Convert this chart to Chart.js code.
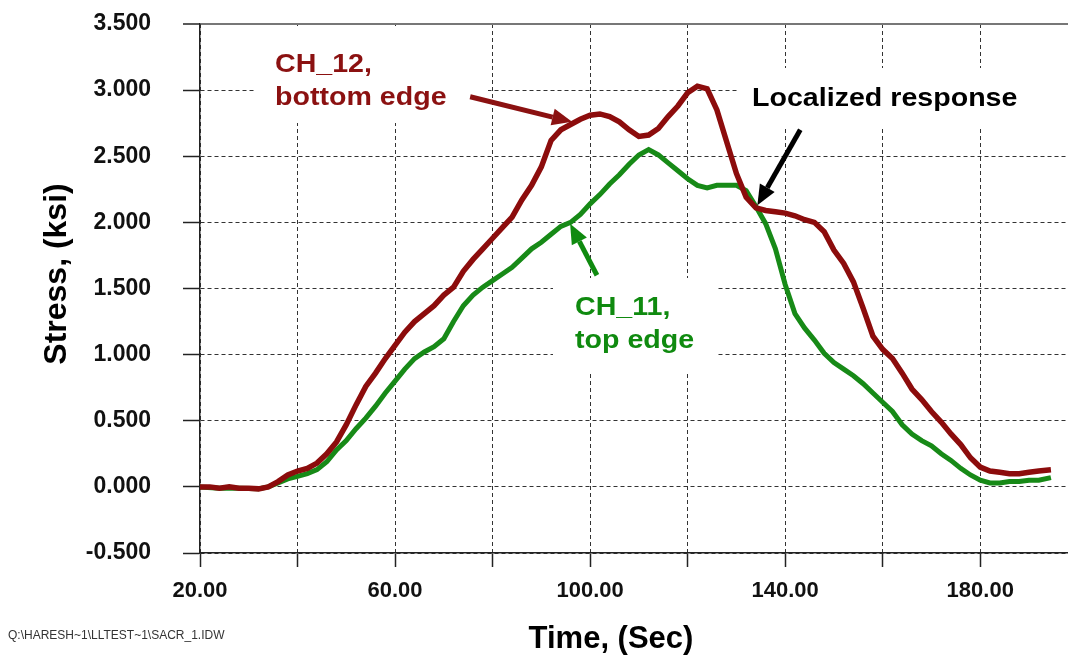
<!DOCTYPE html>
<html>
<head>
<meta charset="utf-8">
<script src="https://cdn.jsdelivr.net/npm/chart.js@4.4.1/dist/chart.umd.min.js"></script>
<style>
  html, body { margin: 0; padding: 0; background: #fff; }
</style>
</head>
<body>
<canvas id="myChart" width="1068" height="656"></canvas>
<script>
// CH_12, bottom edge
var time12 = [20, 22, 24, 26, 28, 30, 32, 34, 36, 38, 40, 42, 44, 46, 48, 50, 52, 54, 56, 58,
    60, 62, 64, 66, 68, 70, 72, 74, 76, 78, 80, 82, 84, 86, 88, 90, 92, 94, 96, 98,
    100, 102, 104, 106, 108, 110, 112, 114, 116, 118, 120, 122, 124, 126, 128, 130, 132, 134, 136, 138,
    140, 142, 144, 146, 148, 150, 152, 154, 156, 158, 160, 162, 164, 166, 168, 170, 172, 174, 176, 178,
    180, 182, 184, 186, 188, 190, 192, 194.5];
var stress12 = [0.00, 0.00, -0.01, 0.00, -0.01, -0.01, -0.015, 0.00, 0.04, 0.09, 0.12, 0.14, 0.18, 0.25, 0.34, 0.47, 0.62, 0.76, 0.86, 0.97,
    1.07, 1.17, 1.25, 1.31, 1.37, 1.45, 1.51, 1.63, 1.72, 1.80, 1.88, 1.96, 2.04, 2.17, 2.28, 2.42, 2.62, 2.70, 2.74, 2.78,
    2.81, 2.82, 2.80, 2.76, 2.70, 2.65, 2.66, 2.71, 2.80, 2.88, 2.98, 3.03, 3.01, 2.85, 2.61, 2.37, 2.19, 2.11, 2.09, 2.08,
    2.07, 2.05, 2.02, 2.00, 1.93, 1.79, 1.69, 1.55, 1.35, 1.14, 1.04, 0.97, 0.86, 0.74, 0.66, 0.57, 0.49, 0.40, 0.32, 0.22,
    0.15, 0.12, 0.11, 0.10, 0.10, 0.11, 0.12, 0.13];

// CH_11, top edge
var time11 = [20, 24, 28, 32, 34, 36, 38, 40, 42, 44, 46, 48, 50, 52, 54, 56, 58,
    60, 62, 64, 66, 68, 70, 72, 74, 76, 78, 80, 82, 84, 86, 88, 90, 92, 94, 96, 98,
    100, 102, 104, 106, 108, 110, 112, 114, 116, 118, 120, 122, 124, 126, 128, 130, 132, 134, 136, 138,
    140, 142, 144, 146, 148, 150, 152, 154, 156, 158, 160, 162, 164, 166, 168, 170, 172, 174, 176, 178,
    180, 182, 184, 186, 188, 190, 192, 194.5];
var stress11 = [0.00, -0.01, -0.01, -0.015, 0.00, 0.03, 0.06, 0.08, 0.10, 0.13, 0.19, 0.28, 0.35, 0.44, 0.52, 0.61, 0.71,
    0.80, 0.89, 0.97, 1.02, 1.06, 1.12, 1.25, 1.37, 1.45, 1.51, 1.56, 1.61, 1.66, 1.73, 1.80, 1.85, 1.91, 1.97, 2.00, 2.06,
    2.14, 2.21, 2.29, 2.36, 2.44, 2.51, 2.55, 2.51, 2.45, 2.39, 2.33, 2.28, 2.26, 2.28, 2.28, 2.28, 2.24, 2.12, 1.99, 1.80,
    1.53, 1.31, 1.20, 1.11, 1.01, 0.94, 0.89, 0.84, 0.78, 0.71, 0.64, 0.57, 0.47, 0.40, 0.35, 0.31, 0.25, 0.20, 0.14, 0.09,
    0.05, 0.03, 0.03, 0.04, 0.04, 0.05, 0.05, 0.07];

var xTicks = [20, 40, 60, 80, 100, 120, 140, 160, 180];
var xLabelTicks = [20, 60, 100, 140, 180];
var yMin = -0.5, yMax = 3.5, yStep = 0.5;

var red = '#8c0c0c';
var green = '#178a17';

function points(xs, ys) {
    return xs.map(function (x, i) { return { x: x, y: ys[i] }; });
}

// arrows in data units: [t1, v1, t2 (tip), v2, colour]
var arrows = [
    [75.4, 2.95, 96.3, 2.76, '#8b1111'],
    [143.1, 2.70, 134.3, 2.13, '#000000'],
    [101.4, 1.60, 95.9, 1.99, '#0f8a0f']
];

function drawArrow(c, x1, y1, x2, y2, color) {
    var a = Math.atan2(y2 - y1, x2 - x1);
    var hl = 20, hw = 17;
    var bx = x2 - hl * Math.cos(a), by = y2 - hl * Math.sin(a);
    c.strokeStyle = color;
    c.lineWidth = 5;
    c.beginPath();
    c.moveTo(x1, y1);
    c.lineTo(bx, by);
    c.stroke();
    c.fillStyle = color;
    c.beginPath();
    c.moveTo(x2, y2);
    c.lineTo(bx + hw / 2 * Math.sin(a), by - hw / 2 * Math.cos(a));
    c.lineTo(bx - hw / 2 * Math.sin(a), by + hw / 2 * Math.cos(a));
    c.closePath();
    c.fill();
}

function wideText(c, txt, x, y) {
    c.save();
    c.translate(x, y);
    c.scale(1.1, 1);
    c.fillText(txt, 0, 0);
    c.restore();
}

var notes = {
    id: 'notes',
    beforeDatasetsDraw: function (chart) {
        var c = chart.ctx;
        c.save();
        c.fillStyle = '#ffffff';
        c.fillRect(256, 26, 232, 97);
        c.fillRect(738, 68, 330, 60);
        c.fillRect(553, 278, 164, 94);
        c.restore();
    },
    afterDatasetsDraw: function (chart) {
        var c = chart.ctx, xs = chart.scales.x, ys = chart.scales.y;
        c.save();
        arrows.forEach(function (a) {
            drawArrow(c, xs.getPixelForValue(a[0]), ys.getPixelForValue(a[1]),
                xs.getPixelForValue(a[2]), ys.getPixelForValue(a[3]), a[4]);
        });
        c.font = 'bold 26px "Liberation Sans", Arial, sans-serif';
        c.textAlign = 'left';
        c.textBaseline = 'alphabetic';
        c.fillStyle = '#8b1111';
        wideText(c, 'CH_12,', 275, 72);
        wideText(c, 'bottom edge', 275, 105);
        c.fillStyle = '#000000';
        wideText(c, 'Localized response', 752, 106);
        c.fillStyle = '#0f8a0f';
        wideText(c, 'CH_11,', 575, 315);
        wideText(c, 'top edge', 575, 348);

        c.fillStyle = '#000000';
        c.font = 'bold 31px "Liberation Sans", Arial, sans-serif';
        c.textAlign = 'center';
        c.fillText('Time, (Sec)', 611, 648);
        c.save();
        c.translate(57, 274);
        c.rotate(-Math.PI / 2);
        c.textBaseline = 'middle';
        c.font = 'bold 32px "Liberation Sans", Arial, sans-serif';
        c.fillText('Stress, (ksi)', 0, 0);
        c.restore();

        c.fillStyle = '#333333';
        c.font = '12px "Liberation Sans", Arial, sans-serif';
        c.textAlign = 'left';
        c.fillText('Q:\\HARESH~1\\LLTEST~1\\SACR_1.IDW', 8, 639);
        c.restore();
    }
};

var ctx = document.getElementById('myChart').getContext('2d');
var myChart = new Chart(ctx, {
    type: 'line',
    data: {
        datasets: [
            {
                label: 'CH_12',
                data: points(time12, stress12),
                borderColor: red,
                borderWidth: 5.5,
                pointRadius: 0,
                fill: false,
                tension: 0
            },
            {
                label: 'CH_11',
                data: points(time11, stress11),
                borderColor: green,
                borderWidth: 5,
                pointRadius: 0,
                fill: false,
                tension: 0
            }
        ]
    },
    options: {
        responsive: false,
        animation: false,
        devicePixelRatio: 1,
        layout: { padding: { top: 24, right: 0, bottom: 0, left: 0 } },
        plugins: {
            legend: { display: false },
            tooltip: { enabled: false }
        },
        scales: {
            x: {
                type: 'linear',
                min: 20,
                max: 198,
                afterBuildTicks: function (s) {
                    s.ticks = xTicks.map(function (v) { return { value: v }; });
                },
                afterFit: function (s) { s.height = 103; },
                ticks: {
                    autoSkip: false,
                    maxRotation: 0,
                    padding: 11,
                    color: '#111',
                    font: { family: '"Liberation Sans", Arial', size: 22, weight: 'bold' },
                    callback: function (v) { return xLabelTicks.indexOf(v) >= 0 ? v.toFixed(2) : ''; }
                },
                grid: {
                    color: '#333',
                    lineWidth: 1,
                    tickLength: 14,
                    tickColor: '#222',
                    tickWidth: 1.5,
                    tickBorderDash: []
                },
                border: { display: true, color: '#222', width: 1.5, dash: [4, 3] }
            },
            y: {
                min: yMin,
                max: yMax,
                afterFit: function (s) { s.width = 200; s.paddingTop = 0; s.paddingBottom = 0; },
                ticks: {
                    stepSize: yStep,
                    padding: 32,
                    color: '#111',
                    font: { family: '"Liberation Sans", Arial', size: 23, weight: 'bold' },
                    callback: function (v) { return v.toFixed(3); }
                },
                grid: {
                    color: function (c) { return c.tick && c.tick.value === yMax ? '#777' : '#333'; },
                    lineWidth: function (c) { return c.tick && c.tick.value === yMax ? 2 : 1; },
                    tickLength: 17,
                    tickColor: '#222',
                    tickWidth: 1.5,
                    tickBorderDash: []
                },
                border: {
                    display: true, color: '#222', width: 1.5,
                    dash: function (c) { return c.tick && c.tick.value === yMax ? [] : [4, 3]; }
                }
            }
        }
    },
    plugins: [notes]
});
</script>
</body>
</html>
